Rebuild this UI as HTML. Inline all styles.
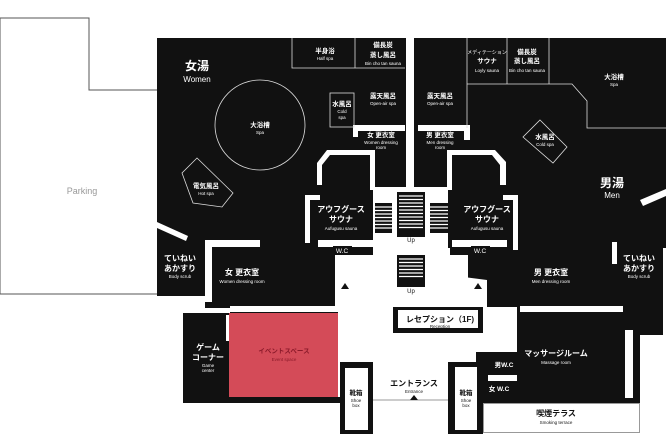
<!DOCTYPE html>
<html><head><meta charset="utf-8"><style>
html,body{margin:0;padding:0;background:#fff;width:666px;height:434px;overflow:hidden}
svg{display:block}
text{font-family:"Liberation Sans","Noto Sans CJK JP",sans-serif;text-anchor:middle;fill:#fff}
.j{font-size:8px;font-weight:bold}
.e{font-size:4.5px}
.s{font-size:6.5px;font-weight:bold}
</style></head><body>
<svg width="666" height="434" viewBox="0 0 666 434" xmlns="http://www.w3.org/2000/svg">
<polyline points="157,90 89,90 89,18 0,18 0,294 157,294" fill="none" stroke="#555" stroke-width="1"/>
<text x="82" y="194" style="font-size:9px;fill:#999">Parking</text>

<g fill="#111">
<rect x="157" y="38" width="509" height="210"/>
<rect x="157" y="245" width="55" height="51"/>
<rect x="205" y="245" width="168" height="67"/>
<rect x="183" y="312" width="155" height="91"/>
<rect x="183" y="397" width="162" height="6"/>
<rect x="340" y="362" width="33" height="72"/>
<rect x="450" y="245" width="177" height="65"/>
<rect x="612" y="228" width="51" height="107"/>
<rect x="517" y="300" width="123" height="104"/>
<rect x="476" y="352" width="45" height="52"/>
<rect x="448" y="362" width="35" height="72"/>
<rect x="393" y="307" width="90" height="26"/>
</g>

<g fill="#fff">
<rect x="406" y="38" width="8" height="150"/>
<rect x="353" y="125" width="52" height="6"/>
<rect x="353" y="125" width="5" height="12"/>
<rect x="418" y="125" width="52" height="6"/>
<rect x="464" y="125" width="6" height="15"/>
<path d="M317,185 V163 L327,150 H375 V190 H370 V155 H330 L322,165 V185 Z"/>
<path d="M305,243 V195 H320 V200 H310 V243 Z"/>
<path d="M447,190 V150 H495 L506,162 V185 H500 V165 L492,155 H452 V190 Z"/>
<path d="M503,195 H518 V250 H513 V200 H503 Z"/>
<rect x="373" y="187" width="75" height="68"/>
<rect x="318" y="240" width="55" height="7"/>
<rect x="452" y="240" width="55" height="7"/>
<rect x="205" y="240" width="55" height="7"/>
<rect x="205" y="240" width="7" height="62"/>
<rect x="612" y="242" width="5" height="22"/>
<path d="M335,280 L398,272 H425 L487,280 V307 H483 V307 H335 Z"/>
<rect x="335" y="255" width="38" height="30"/>
<rect x="448" y="255" width="20" height="25"/>
<rect x="358" y="255" width="40" height="12"/>
<rect x="425" y="255" width="40" height="12"/>
<rect x="373" y="307" width="20" height="58"/>
<rect x="483" y="307" width="34" height="45"/>
<rect x="230" y="306" width="143" height="6"/>
<rect x="183" y="308" width="47" height="5"/>
<rect x="520" y="306" width="103" height="6"/>
<rect x="398" y="310" width="80" height="18"/>
<rect x="345" y="368" width="23" height="62"/>
<rect x="455" y="367" width="22" height="63"/>
<rect x="625" y="330" width="8" height="68"/>
<rect x="488" y="375" width="29" height="6"/>
<rect x="373" y="365" width="75" height="69"/>
<rect x="483" y="404" width="157" height="30"/>
<rect x="226" y="315" width="4" height="26"/>
<path d="M640,200 L666,189 V196 L643,206 Z"/>
<path d="M157,222 L188,236 L186,241 L157,228 Z"/>
</g>
<rect x="483.5" y="403.5" width="156" height="29" fill="none" stroke="#999" stroke-width="1"/>
<line x1="373" y1="400" x2="448" y2="400" stroke="#999" stroke-width="1"/>

<g fill="#111">
<rect x="397" y="192" width="28" height="45"/>
<rect x="375" y="203" width="17" height="30"/>
<rect x="430" y="203" width="18" height="30"/>
<rect x="397" y="255" width="28" height="32"/>
</g>
<g stroke="#fff" stroke-width="1.2">
<path d="M399,196H423M399,199.5H423M399,203H423M399,206.5H423M399,210H423M399,213.5H423M399,217H423M399,220.5H423M399,224H423M399,227.5H423"/>
<path d="M375,207H392M375,210.5H392M375,214H392M375,217.5H392M375,221H392M375,224.5H392M375,228H392"/>
<path d="M430,207H448M430,210.5H448M430,214H448M430,217.5H448M430,221H448M430,224.5H448M430,228H448"/>
<path d="M399,259H423M399,262.5H423M399,266H423M399,269.5H423M399,273H423M399,276.5H423"/>
</g>
<g fill="#111">
<polygon points="411,228 415,234 407,234"/>
<polygon points="411,278 415,284 407,284"/>
<polygon points="345,283 349,289 341,289"/>
<polygon points="478,283 482,289 474,289"/>
<polygon points="414,395 418,400 410,400"/>
</g>
<text x="411" y="242" style="font-size:6px;fill:#111">Up</text>
<text x="411" y="293" style="font-size:6px;fill:#111">Up</text>

<g fill="none" stroke="#ddd" stroke-width="0.8">
<path d="M292,38V68H405M355,38V68"/>
<rect x="330" y="93" width="24" height="34"/>
<circle cx="260" cy="125" r="45"/>
<polygon points="197,158 233,193 222,207 193,203 182,173"/>
<path d="M467,38V128M467,84H572L587,101V128H666M507,38V84M549,38V84"/>
<polygon points="540,120 567,147 553,163 523,137"/>
</g>

<rect x="229" y="313" width="109" height="84" fill="#d44b58"/>
<text x="284" y="353" class="s" style="fill:#8b1a2a">イベントスペース</text>
<text x="284" y="361" class="e" style="fill:#8b1a2a">Event space</text>

<text x="197" y="70" style="font-size:12px;font-weight:bold">女湯</text>
<text x="197" y="82" style="font-size:8px">Women</text>
<text x="325" y="53" class="s">半身浴</text><text x="325" y="60" class="e">Half spa</text>
<text x="383" y="47" class="s">備長炭</text><text x="383" y="57" class="s">蒸し風呂</text><text x="383" y="65" class="e">Bin cho tan sauna</text>
<text x="383" y="98" class="s">露天風呂</text><text x="383" y="105" class="e">Open-air spa</text>
<text x="342" y="106" class="s">水風呂</text><text x="342" y="113" class="e">Cold</text><text x="342" y="119" class="e">spa</text>
<text x="381" y="137" class="s">女 更衣室</text><text x="381" y="144" class="e">Women dressing</text><text x="381" y="149" class="e">room</text>
<text x="260" y="127" class="s">大浴槽</text><text x="260" y="134" class="e">Spa</text>
<text x="206" y="188" class="s">電気風呂</text><text x="206" y="195" class="e">Hot spa</text>
<text x="341" y="212" class="j">アウフグース</text><text x="341" y="222" class="j">サウナ</text><text x="341" y="230" class="e">Aufugusu sauna</text>
<text x="487" y="212" class="j">アウフグース</text><text x="487" y="222" class="j">サウナ</text><text x="487" y="230" class="e">Aufugusu sauna</text>
<text x="487" y="54" style="font-size:5px">メディテーション</text><text x="487" y="63" class="s">サウナ</text><text x="487" y="72" class="e">Loyly sauna</text>
<text x="527" y="54" class="s">備長炭</text><text x="527" y="63" class="s">蒸し風呂</text><text x="527" y="72" class="e">Bin cho tan sauna</text>
<text x="614" y="79" class="s">大浴槽</text><text x="614" y="86" class="e">Spa</text>
<text x="440" y="98" class="s">露天風呂</text><text x="440" y="105" class="e">Open-air spa</text>
<text x="440" y="137" class="s">男 更衣室</text><text x="440" y="144" class="e">Men dressing</text><text x="440" y="149" class="e">room</text>
<text x="545" y="139" class="s">水風呂</text><text x="545" y="146" class="e">Cold spa</text>
<text x="612" y="187" style="font-size:12px;font-weight:bold">男湯</text>
<text x="612" y="198" style="font-size:8px">Men</text>
<rect x="333" y="246" width="19" height="8" fill="#111"/><text x="342" y="253" style="font-size:6.5px">W.C</text>
<rect x="471" y="246" width="19" height="8" fill="#111"/><text x="480" y="253" style="font-size:6.5px">W.C</text>
<text x="180" y="261" class="j">ていねい</text><text x="180" y="271" class="j">あかすり</text><text x="180" y="278" class="e">Body scrub</text>
<text x="639" y="261" class="j">ていねい</text><text x="639" y="271" class="j">あかすり</text><text x="639" y="278" class="e">Body scrub</text>
<text x="242" y="275" class="j">女 更衣室</text><text x="242" y="283" class="e">Women dressing room</text>
<text x="551" y="275" class="j">男 更衣室</text><text x="551" y="283" class="e">Men dressing room</text>
<text x="440" y="322" class="j" style="fill:#111">レセプション（1F)</text><text x="440" y="328" class="e" style="fill:#111">Reception</text>
<text x="208" y="350" class="j">ゲーム</text><text x="208" y="360" class="j">コーナー</text><text x="208" y="367" class="e">Game</text><text x="208" y="372" class="e">center</text>
<text x="356" y="395" class="s" style="fill:#111">靴箱</text><text x="356" y="402" class="e" style="fill:#111">Shoe</text><text x="356" y="407" class="e" style="fill:#111">box</text>
<text x="466" y="395" class="s" style="fill:#111">靴箱</text><text x="466" y="402" class="e" style="fill:#111">Shoe</text><text x="466" y="407" class="e" style="fill:#111">box</text>
<text x="414" y="386" class="j" style="fill:#111">エントランス</text><text x="414" y="393" class="e" style="fill:#111">Entrance</text>
<text x="556" y="356" class="j">マッサージルーム</text><text x="556" y="364" class="e">Massage room</text>
<rect x="491" y="358" width="26" height="13" fill="#111"/>
<text x="504" y="367" class="s">男W.C</text>
<text x="499" y="391" class="s">女 W.C</text>
<text x="556" y="416" class="j" style="fill:#111">喫煙テラス</text><text x="556" y="424" class="e" style="fill:#111">Smoking terrace</text>
</svg>
</body></html>
